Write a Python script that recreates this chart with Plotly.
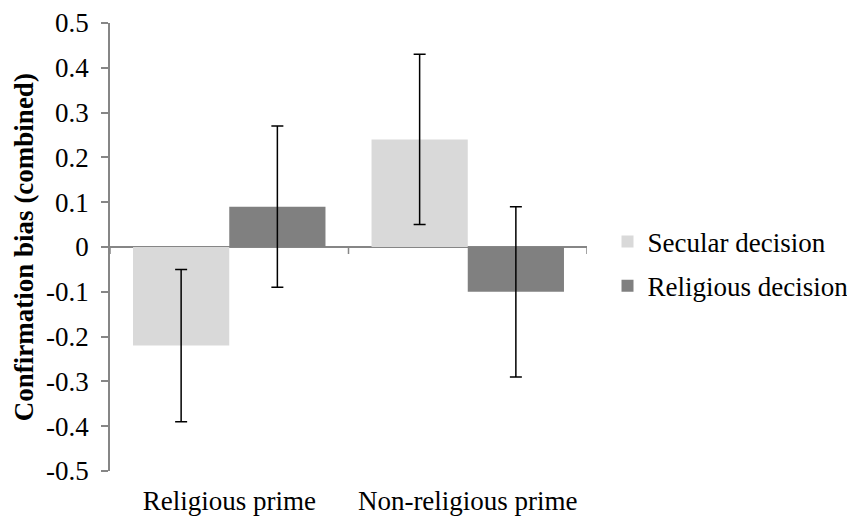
import plotly.graph_objects as go

# Conditions on the x axis
primes = ["Religious prime", "Non-religious prime"]

# Mean confirmation bias per decision type
secular_mean = [-0.22, 0.24]
religious_mean = [0.09, -0.10]

# Error bar half-widths
secular_err = [0.17, 0.19]
religious_err = [0.18, 0.19]

# Y tick values and labels
y_ticks = [0.5, 0.4, 0.3, 0.2, 0.1, 0, -0.1, -0.2, -0.3, -0.4, -0.5]
y_labels = ["0.5", "0.4", "0.3", "0.2", "0.1", "0", "-0.1", "-0.2", "-0.3", "-0.4", "-0.5"]

y_title = "Confirmation bias (combined)"

FONT = "Liberation Serif, Times New Roman, serif"
AXIS_GRAY = "#868686"
FS = 27

err_style = dict(type="data", visible=True, color="black", thickness=1.5, width=6)

fig = go.Figure()
fig.add_trace(go.Bar(
    name="Secular decision", x=primes, y=secular_mean,
    marker=dict(color="#d9d9d9", line=dict(width=0)),
    error_y=dict(array=secular_err, **err_style),
    legendgroup="a",
))
fig.add_trace(go.Bar(
    name="Religious decision", x=primes, y=religious_mean,
    marker=dict(color="#808080", line=dict(width=0)),
    error_y=dict(array=religious_err, **err_style),
    legendgroup="b",
))

# Tick marks hanging below the zero line at category boundaries
for xb in [-0.5, 0.5, 1.5]:
    fig.add_shape(type="line", xref="x", yref="y", x0=xb, x1=xb,
                  ysizemode="pixel", yanchor=0, y0=0, y1=-7,
                  line=dict(color=AXIS_GRAY, width=1.5))

# Vertical y-axis title
fig.add_annotation(text="<b>" + y_title + "</b>", textangle=-90,
                   xref="paper", yref="paper", x=-0.180, y=0.5,
                   xanchor="center", yanchor="middle", showarrow=False,
                   font=dict(size=FS, family=FONT, color="black"))

fig.update_layout(
    width=847, height=517,
    margin=dict(l=110, r=260, t=23, b=46, autoexpand=False),
    paper_bgcolor="white", plot_bgcolor="white",
    barmode="group", bargap=0.193, bargroupgap=0,
    font=dict(family=FONT, size=FS, color="black"),
    showlegend=True,
    legend=dict(x=1.043, xanchor="left", y=0.462, yanchor="middle",
                font=dict(size=FS), traceorder="grouped", tracegroupgap=6,
                itemwidth=30, bgcolor="rgba(0,0,0,0)"),
    xaxis=dict(showline=False, ticks="", showgrid=False, zeroline=False,
               range=[-0.5, 1.5], ticklabelstandoff=11, automargin=False,
               tickfont=dict(size=FS)),
    yaxis=dict(range=[-0.5, 0.5], tickvals=y_ticks, ticktext=y_labels,
               showline=True, linecolor=AXIS_GRAY, linewidth=1.5,
               ticks="outside", ticklen=7, tickcolor=AXIS_GRAY, tickwidth=1.5,
               showgrid=False, zeroline=True, zerolinecolor=AXIS_GRAY,
               zerolinewidth=1.5, automargin=False, ticklabelstandoff=7,
               tickfont=dict(size=FS)),
)

fig.write_html("out.html")
